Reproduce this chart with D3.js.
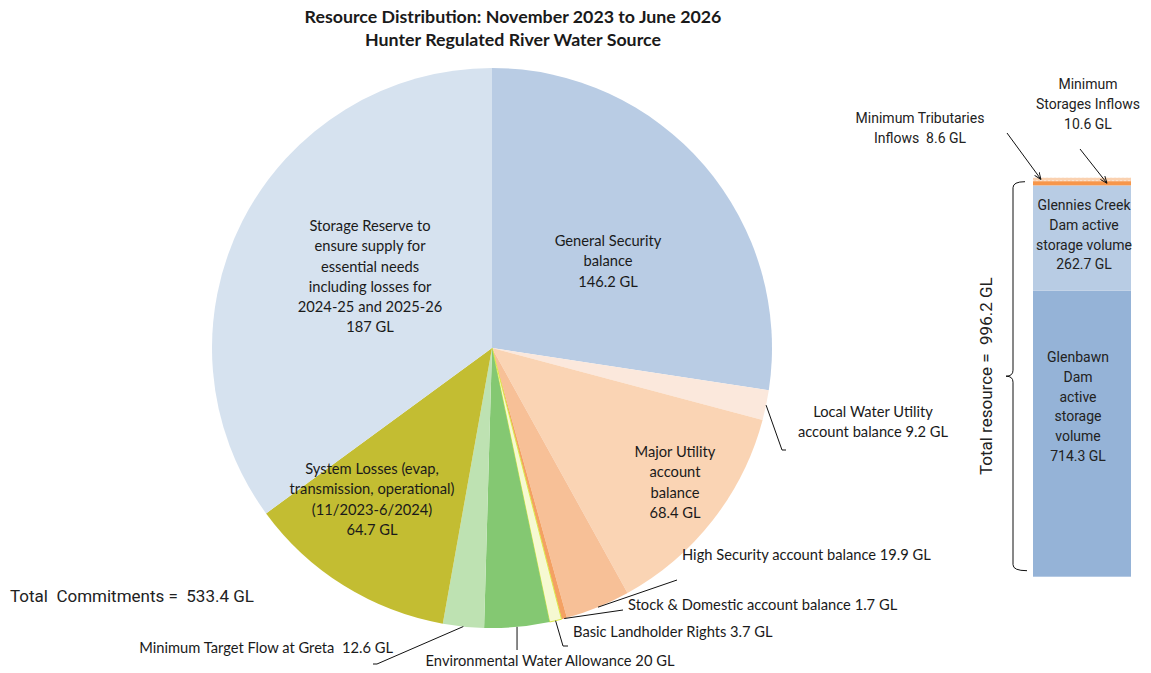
<!DOCTYPE html>
<html>
<head>
<meta charset="utf-8">
<script src="https://cdn.jsdelivr.net/npm/d3@7"></script>
<style>
  body { margin: 0; background: #fff; }
  svg text { fill: #1a1a1a; white-space: pre; }
  .pl { font-family: Lato, "Open Sans", sans-serif; font-size: 14.7px; }
  .bl { font-family: Roboto, sans-serif; font-size: 14px; fill: #222; }
  .ttl { font-family: Lato, sans-serif; font-size: 17.8px; font-weight: bold; }
  .lead { stroke: #111; stroke-width: 1; fill: none; }
</style>
</head>
<body>
<div class="viz"></div>
<script>
// commitments (pie), clockwise from 12 o'clock
var sliceNames = ["General Security", "Local Water Utility", "Major Utility", "High Security", "Stock & Domestic",
  "Basic Landholder Rights", "Environmental Water Allowance", "Minimum Target Flow", "System Losses", "Storage Reserve"];
var sliceValues = [146.2, 9.2, 68.4, 19.9, 1.7, 3.7, 20, 12.6, 64.7, 187];
var sliceLabels = [
  ["General Security", "balance", "146.2 GL"],
  ["Local Water Utility", "account balance 9.2 GL"],
  ["Major Utility", "account", "balance", "68.4 GL"],
  ["High Security account balance 19.9 GL"],
  ["Stock & Domestic account balance 1.7 GL"],
  ["Basic Landholder Rights 3.7 GL"],
  ["Environmental Water Allowance 20 GL"],
  ["Minimum Target Flow at Greta  12.6 GL"],
  ["System Losses (evap,", "transmission, operational)", "(11/2023-6/2024)", "64.7 GL"],
  ["Storage Reserve to", "ensure supply for", "essential needs", "including losses for", "2024-25 and 2025-26", "187 GL"]
];
// resources (stacked bar), bottom to top
var resNames = ["Glenbawn", "Glennies Creek", "Minimum Storages Inflows", "Minimum Tributaries Inflows"];
var resValues = [714.3, 262.7, 10.6, 8.6];
var resLabels = [
  ["Glenbawn", "Dam", "active", "storage", "volume", "714.3 GL"],
  ["Glennies Creek", "Dam active", "storage volume", "262.7 GL"],
  ["Minimum", "Storages Inflows", "10.6 GL"],
  ["Minimum Tributaries", "Inflows  8.6 GL"]
];
var totalCommit = "Total  Commitments =  533.4 GL";
var totalRes = "Total resource =  996.2 GL";
var title = ["Resource Distribution: November 2023 to June 2026", "Hunter Regulated River Water Source"];

var width = 1151, height = 673;
var cx = 492, cy = 348, R = 280;
var pieColors = ["#b9cce4", "#fbe8dc", "#fad4b4", "#f7c097", "#f4a163", "#f6f9d2", "#84c872", "#bee2b2", "#c3bd32", "#d6e2ef"];
var barColors = ["#95b3d7", "#b8cce4", "#f7964a", "url(#dots)"];

var svg = d3.select(".viz").append("svg").attr("width", width).attr("height", height);
var defs = svg.append("defs");
var pat = defs.append("pattern").attr("id", "dots").attr("width", 4).attr("height", 4).attr("patternUnits", "userSpaceOnUse");
pat.append("rect").attr("width", 4).attr("height", 4).attr("fill", "#fad1b0");
pat.append("circle").attr("cx", 1).attr("cy", 1).attr("r", 0.7).attr("fill", "#fff");

// title
svg.append("g").selectAll("text").data(title).enter().append("text")
  .attr("class", "ttl").attr("x", 513).attr("y", function (d, i) { return 23 + i * 23; })
  .attr("text-anchor", "middle").text(function (d) { return d; });

// pie
var pie = d3.pie().sort(null).value(function (d) { return d; });
var arcs = pie(sliceValues);
var arc = d3.arc().innerRadius(0).outerRadius(R);
var g = svg.append("g").attr("transform", "translate(" + cx + "," + cy + ")");
g.selectAll("path").data(arcs).enter().append("path")
  .attr("d", arc)
  .attr("fill", function (d, i) { return pieColors[i]; })
  .attr("stroke", function (d, i) { return i === 5 ? "#dbe846" : "none"; })
  .attr("stroke-width", 1);

function edge(d, r) {
  var a = (d.startAngle + d.endAngle) / 2;
  return [Math.sin(a) * r, -Math.cos(a) * r];
}

// label placement (text anchor point relative to pie centre, and leader end)
var labelLayout = [
  { x: 116, y: -107 },
  { x: 381, y: 64, lead: [[290, 102], [294, 102]] },
  { x: 183, y: 104 },
  { x: 190, y: 207, anchor: "start", lead: [[185, 232]] },
  { x: 136, y: 257, anchor: "start", lead: [[131, 262]] },
  { x: 81, y: 284, anchor: "start", lead: [[71, 298], [76, 298]] },
  { x: 58, y: 313, lead: [[25, 302]] },
  { x: -99, y: 300, anchor: "end", lead: [[-115, 316], [-119, 316]] },
  { x: -120, y: 121 },
  { x: -122, y: -122 }
];

arcs.forEach(function (d, i) {
  var L = labelLayout[i];
  if (L.lead) {
    var p0 = edge(d, R);
    var pts = [p0].concat(L.lead);
    if (i === 6) pts = [p0, [p0[0], L.lead[0][1]]];
    g.append("path").attr("class", "lead").attr("d", d3.line()(pts));
  }
  var t = g.append("text").attr("class", "pl").attr("text-anchor", L.anchor || "middle");
  sliceLabels[i].forEach(function (s, k) {
    t.append("tspan").attr("x", L.x).attr("y", L.y + k * 20.2).attr("dy", "0.35em").text(s);
  });
});

svg.append("text").attr("class", "bl").style("font-size", "17px")
  .attr("x", 10).attr("y", 596).attr("dy", "0.35em").text(totalCommit);

// stacked bar
var stack = d3.cumsum(resValues);
var y = d3.scaleLinear().domain([0, d3.sum(resValues)]).range([576.7, 177.7]);
var bx = 1033, bw = 98;
svg.append("g").selectAll("rect").data(resValues).enter().append("rect")
  .attr("x", bx).attr("width", bw)
  .attr("y", function (d, i) { return y(stack[i]); })
  .attr("height", function (d, i) { return y(stack[i] - d) - y(stack[i]); })
  .attr("fill", function (d, i) { return barColors[i]; });

// bar labels
var barLabelPos = [
  { x: 1078, y: 357 },
  { x: 1084, y: 205 },
  { x: 1088, y: 84 },
  { x: 920, y: 118 }
];
resLabels.forEach(function (lines, i) {
  var p = barLabelPos[i];
  var t = svg.append("text").attr("class", "bl").attr("text-anchor", "middle");
  lines.forEach(function (s, k) {
    t.append("tspan").attr("x", p.x).attr("y", p.y + k * 19.8).attr("dy", "0.35em").text(s);
  });
});

// arrows to thin segments
defs.append("marker").attr("id", "ah").attr("viewBox", "0 0 10 10").attr("refX", 10).attr("refY", 5)
  .attr("markerWidth", 7).attr("markerHeight", 7).attr("orient", "auto")
  .append("path").attr("d", "M0,1 L10,5 L0,9").attr("fill", "none").attr("stroke", "#111").attr("stroke-width", 1.3);
var arrowStart = [null, null, [1080, 149], [1007, 133]];
var arrowEndX = [null, null, 1107, 1041];
[2, 3].forEach(function (i) {
  var yMid = (y(stack[i]) + y(stack[i] - resValues[i])) / 2;
  svg.append("line").attr("class", "lead")
    .attr("x1", arrowStart[i][0]).attr("y1", arrowStart[i][1])
    .attr("x2", arrowEndX[i]).attr("y2", yMid)
    .attr("marker-end", "url(#ah)");
});

// brace
var bTop = y(d3.sum(resValues)) + 4, bBot = y(0) - 6, bMid = (bTop + bBot) / 2;
var bxl = 1013;
svg.append("path").attr("class", "lead").attr("stroke", "#333")
  .attr("d", "M1025," + bTop + " Q" + bxl + "," + bTop + " " + bxl + "," + (bTop + 6) +
    " L" + bxl + "," + (bMid - 6) + " Q" + bxl + "," + bMid + " 1006," + bMid +
    " Q" + bxl + "," + bMid + " " + bxl + "," + (bMid + 6) +
    " L" + bxl + "," + (bBot - 6) + " Q" + bxl + "," + bBot + " 1027," + bBot);

svg.append("text").attr("class", "bl").style("font-size", "17px")
  .attr("transform", "translate(986," + bMid + ") rotate(-90)")
  .attr("text-anchor", "middle").attr("dy", "0.35em").text(totalRes);
</script>
</body>
</html>
